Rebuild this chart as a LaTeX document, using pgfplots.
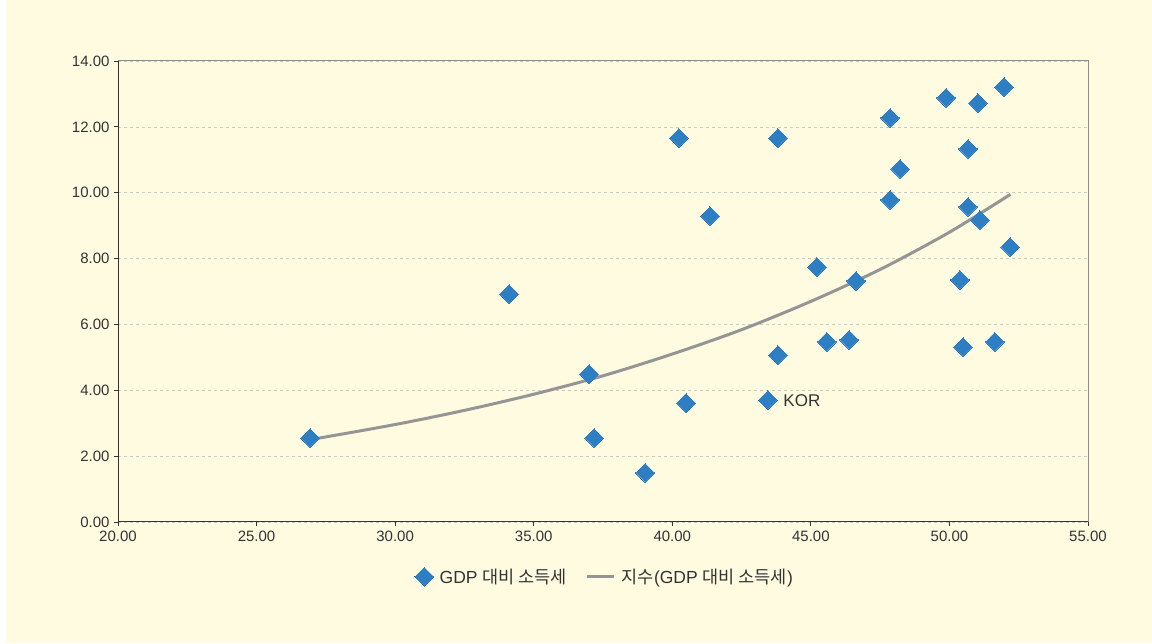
\documentclass[border=0pt]{standalone}
\usepackage{pgfplots}
\pgfplotsset{compat=1.18}
\usepackage{fontspec}
\setmainfont{Liberation Sans}
\newfontfamily\kr{Noto Sans CJK KR}
\definecolor{bgy}{HTML}{FEFBE0}
\definecolor{ptblue}{HTML}{2E7EC4}
\definecolor{trend}{HTML}{959595}
\definecolor{txt}{HTML}{333333}
\definecolor{gridc}{HTML}{C9C9C9}
\begin{document}
\begin{tikzpicture}
\fill[white] (0,0) rectangle (1152pt,643pt);
\fill[bgy] (6pt,0) rectangle (1152pt,643pt);
\begin{axis}[
  at={(118pt,121pt)}, anchor=south west,
  scale only axis, width=970pt, height=461pt,
  xmin=20, xmax=55, ymin=0, ymax=14,
  xtick={20,25,...,55}, ytick={0,2,...,14},
  xtick pos=bottom, ytick pos=left, tick align=outside,
  major tick length=4pt,
  tick style={draw=txt, line width=0.8pt},
  axis line style={draw=gray!90, line width=1pt},
  ymajorgrids, grid style={draw=gridc, dashed, line width=0.6pt},
  /pgf/number format/fixed,
  /pgf/number format/fixed zerofill,
  /pgf/number format/precision=2,
  /pgf/number format/assume math mode=true,
  xticklabel style={font=\fontsize{15pt}{17pt}\selectfont, text=txt, yshift=-1pt},
  yticklabel style={font=\fontsize{15pt}{17pt}\selectfont, text=txt, xshift=-1pt},
  legend style={at={(0.502,-0.119)}, anchor=center, draw=none, fill=none,
    font=\fontsize{17.5pt}{20pt}\selectfont, text=txt,
    /tikz/every odd column/.append style={column sep=4pt},
    /tikz/every even column/.append style={column sep=17pt}},
  legend columns=2,
]
\addplot[only marks, mark=square*, mark size=6.6pt, mark options={rotate=45, draw=ptblue, line width=0pt, fill=ptblue}]
  coordinates {
  (26.93,2.55) (34.11,6.92) (37.00,4.49) (37.18,2.55) (39.02,1.49)
  (40.24,11.66) (40.50,3.61) (41.36,9.29) (43.81,11.66) (43.81,5.07)
  (43.45,3.70) (45.22,7.74) (45.58,5.47) (46.38,5.53) (46.63,7.32)
  (47.86,12.27) (47.86,9.78) (48.22,10.72) (49.88,12.88) (51.03,12.72)
  (50.67,11.33) (50.67,9.57) (51.10,9.17) (50.38,7.35) (50.49,5.31)
  (51.64,5.47) (51.97,13.21) (52.19,8.35)
  };
\addlegendentry{GDP {\kr 대비 소득세}}
\addplot[trend, line width=3pt, smooth, mark=none,
  legend image code/.code={\draw[trend, line width=3pt] (0pt,0pt) -- (27pt,0pt);}]
  coordinates {
  (26.93,2.50) (30,2.96) (32.5,3.39) (35,3.88) (37.5,4.44) (40,5.10)
  (42.5,5.84) (45,6.70) (47.5,7.67) (50,8.80) (52.2,9.95)
  };
\addlegendentry{{\kr 지수}(GDP {\kr 대비 소득세})}
\draw[txt, line width=1pt] (rel axis cs:0,1) -- (rel axis cs:0,0) -- (rel axis cs:1,0);
\node[anchor=west, text=txt, font=\fontsize{17pt}{19pt}\selectfont] at (axis cs:43.45,3.70) [xshift=12pt] {KOR};
\end{axis}
\end{tikzpicture}
\end{document}
